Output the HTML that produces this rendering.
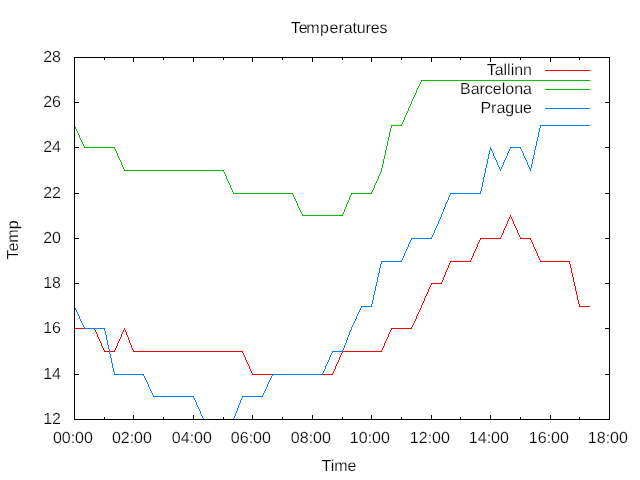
<!DOCTYPE html>
<html><head><meta charset="utf-8"><title>Temperatures</title>
<style>
html,body{margin:0;padding:0;background:#fff;}
body{width:640px;height:480px;position:relative;overflow:hidden;font-family:"Liberation Sans",sans-serif;}
#labels{position:absolute;left:0;top:0;width:640px;height:480px;will-change:transform;}
.t{position:absolute;font-family:"Liberation Sans",sans-serif;font-size:16px;line-height:16px;color:#000;white-space:nowrap;text-rendering:geometricPrecision;-webkit-text-stroke:0.2px #fff;}
</style></head><body>
<svg width="640" height="480" viewBox="0 0 640 480" shape-rendering="crispEdges" style="position:absolute;left:0;top:0"><path fill="#000" d="M74 415h1v5h-1zM74 57h1v5h-1zM104 417h1v3h-1zM104 57h1v3h-1zM133 415h1v5h-1zM133 57h1v5h-1zM163 417h1v3h-1zM163 57h1v3h-1zM193 415h1v5h-1zM193 57h1v5h-1zM223 417h1v3h-1zM223 57h1v3h-1zM252 415h1v5h-1zM252 57h1v5h-1zM282 417h1v3h-1zM282 57h1v3h-1zM312 415h1v5h-1zM312 57h1v5h-1zM342 417h1v3h-1zM342 57h1v3h-1zM371 415h1v5h-1zM371 57h1v5h-1zM401 417h1v3h-1zM401 57h1v3h-1zM431 415h1v5h-1zM431 57h1v5h-1zM460 417h1v3h-1zM460 57h1v3h-1zM490 415h1v5h-1zM490 57h1v5h-1zM520 417h1v3h-1zM520 57h1v3h-1zM550 415h1v5h-1zM550 57h1v5h-1zM579 417h1v3h-1zM579 57h1v3h-1zM609 415h1v5h-1zM609 57h1v5h-1zM74 419h5v1h-5zM605 419h5v1h-5zM74 374h5v1h-5zM605 374h5v1h-5zM74 328h5v1h-5zM605 328h5v1h-5zM74 283h5v1h-5zM605 283h5v1h-5zM74 238h5v1h-5zM605 238h5v1h-5zM74 193h5v1h-5zM605 193h5v1h-5zM74 147h5v1h-5zM605 147h5v1h-5zM74 102h5v1h-5zM605 102h5v1h-5zM74 57h5v1h-5zM605 57h5v1h-5z"/><path fill="#ff0000" d="M510 215h1v1h-1zM510 216h1v1h-1zM509 217h1v1h-1zM511 217h1v1h-1zM509 218h1v1h-1zM511 218h1v1h-1zM508 219h1v1h-1zM512 219h1v1h-1zM508 220h1v1h-1zM512 220h1v1h-1zM507 221h1v1h-1zM513 221h1v1h-1zM507 222h1v1h-1zM513 222h1v1h-1zM507 223h1v1h-1zM513 223h1v1h-1zM506 224h1v1h-1zM514 224h1v1h-1zM506 225h1v1h-1zM514 225h1v1h-1zM505 226h1v1h-1zM515 226h1v1h-1zM505 227h1v1h-1zM515 227h1v1h-1zM504 228h1v1h-1zM516 228h1v1h-1zM504 229h1v1h-1zM516 229h1v1h-1zM503 230h1v1h-1zM517 230h1v1h-1zM503 231h1v1h-1zM517 231h1v1h-1zM503 232h1v1h-1zM517 232h1v1h-1zM502 233h1v1h-1zM518 233h1v1h-1zM502 234h1v1h-1zM518 234h1v1h-1zM501 235h1v1h-1zM519 235h1v1h-1zM501 236h1v1h-1zM519 236h1v1h-1zM500 237h1v1h-1zM520 237h1v1h-1zM480 238h21v1h-21zM520 238h11v1h-11zM480 239h1v1h-1zM530 239h1v1h-1zM479 240h1v1h-1zM531 240h1v1h-1zM479 241h1v1h-1zM531 241h1v1h-1zM478 242h1v1h-1zM532 242h1v1h-1zM478 243h1v1h-1zM532 243h1v1h-1zM477 244h1v1h-1zM533 244h1v1h-1zM477 245h1v1h-1zM533 245h1v1h-1zM477 246h1v1h-1zM533 246h1v1h-1zM476 247h1v1h-1zM534 247h1v1h-1zM476 248h1v1h-1zM534 248h1v1h-1zM475 249h1v1h-1zM535 249h1v1h-1zM475 250h1v1h-1zM535 250h1v1h-1zM474 251h1v1h-1zM536 251h1v1h-1zM474 252h1v1h-1zM536 252h1v1h-1zM473 253h1v1h-1zM537 253h1v1h-1zM473 254h1v1h-1zM537 254h1v1h-1zM473 255h1v1h-1zM537 255h1v1h-1zM472 256h1v1h-1zM538 256h1v1h-1zM472 257h1v1h-1zM538 257h1v1h-1zM471 258h1v1h-1zM539 258h1v1h-1zM471 259h1v1h-1zM539 259h1v1h-1zM470 260h1v1h-1zM540 260h1v1h-1zM450 261h21v1h-21zM540 261h30v1h-30zM450 262h1v1h-1zM569 262h1v1h-1zM449 263h1v1h-1zM569 263h1v1h-1zM449 264h1v1h-1zM570 264h1v1h-1zM448 265h1v1h-1zM570 265h1v1h-1zM448 266h1v1h-1zM570 266h1v1h-1zM448 267h1v1h-1zM570 267h1v1h-1zM447 268h1v1h-1zM571 268h1v1h-1zM447 269h1v1h-1zM571 269h1v1h-1zM446 270h1v1h-1zM571 270h1v1h-1zM446 271h1v1h-1zM571 271h1v1h-1zM445 272h1v1h-1zM571 272h1v1h-1zM445 273h1v1h-1zM572 273h1v1h-1zM445 274h1v1h-1zM572 274h1v1h-1zM444 275h1v1h-1zM572 275h1v1h-1zM444 276h1v1h-1zM572 276h1v1h-1zM443 277h1v1h-1zM573 277h1v1h-1zM443 278h1v1h-1zM573 278h1v1h-1zM443 279h1v1h-1zM573 279h1v1h-1zM442 280h1v1h-1zM573 280h1v1h-1zM442 281h1v1h-1zM573 281h1v1h-1zM441 282h1v1h-1zM574 282h1v1h-1zM431 283h11v1h-11zM574 283h1v1h-1zM431 284h1v1h-1zM574 284h1v1h-1zM430 285h1v1h-1zM574 285h1v1h-1zM430 286h1v1h-1zM575 286h1v1h-1zM429 287h1v1h-1zM575 287h1v1h-1zM429 288h1v1h-1zM575 288h1v1h-1zM428 289h1v1h-1zM575 289h1v1h-1zM428 290h1v1h-1zM575 290h1v1h-1zM428 291h1v1h-1zM576 291h1v1h-1zM427 292h1v1h-1zM576 292h1v1h-1zM427 293h1v1h-1zM576 293h1v1h-1zM426 294h1v1h-1zM576 294h1v1h-1zM426 295h1v1h-1zM577 295h1v1h-1zM425 296h1v1h-1zM577 296h1v1h-1zM425 297h1v1h-1zM577 297h1v1h-1zM424 298h1v1h-1zM577 298h1v1h-1zM424 299h1v1h-1zM577 299h1v1h-1zM424 300h1v1h-1zM578 300h1v1h-1zM423 301h1v1h-1zM578 301h1v1h-1zM423 302h1v1h-1zM578 302h1v1h-1zM422 303h1v1h-1zM578 303h1v1h-1zM422 304h1v1h-1zM579 304h1v1h-1zM421 305h1v1h-1zM579 305h1v1h-1zM421 306h1v1h-1zM579 306h11v1h-11zM421 307h1v1h-1zM420 308h1v1h-1zM420 309h1v1h-1zM419 310h1v1h-1zM419 311h1v1h-1zM418 312h1v1h-1zM418 313h1v1h-1zM417 314h1v1h-1zM417 315h1v1h-1zM416 316h1v1h-1zM416 317h1v1h-1zM416 318h1v1h-1zM415 319h1v1h-1zM415 320h1v1h-1zM414 321h1v1h-1zM414 322h1v1h-1zM413 323h1v1h-1zM413 324h1v1h-1zM412 325h1v1h-1zM412 326h1v1h-1zM411 327h1v1h-1zM74 328h21v1h-21zM124 328h1v1h-1zM391 328h21v1h-21zM94 329h1v1h-1zM124 329h1v1h-1zM391 329h1v1h-1zM95 330h1v1h-1zM123 330h1v1h-1zM125 330h1v1h-1zM390 330h1v1h-1zM95 331h1v1h-1zM123 331h1v1h-1zM125 331h1v1h-1zM390 331h1v1h-1zM96 332h1v1h-1zM122 332h1v1h-1zM126 332h1v1h-1zM389 332h1v1h-1zM96 333h1v1h-1zM122 333h1v1h-1zM126 333h1v1h-1zM389 333h1v1h-1zM97 334h1v1h-1zM121 334h1v1h-1zM126 334h1v1h-1zM388 334h1v1h-1zM97 335h1v1h-1zM121 335h1v1h-1zM127 335h1v1h-1zM388 335h1v1h-1zM97 336h1v1h-1zM121 336h1v1h-1zM127 336h1v1h-1zM388 336h1v1h-1zM98 337h1v1h-1zM120 337h1v1h-1zM128 337h1v1h-1zM387 337h1v1h-1zM98 338h1v1h-1zM120 338h1v1h-1zM128 338h1v1h-1zM387 338h1v1h-1zM99 339h1v1h-1zM119 339h1v1h-1zM128 339h1v1h-1zM386 339h1v1h-1zM99 340h1v1h-1zM119 340h1v1h-1zM129 340h1v1h-1zM386 340h1v1h-1zM100 341h1v1h-1zM118 341h1v1h-1zM129 341h1v1h-1zM385 341h1v1h-1zM100 342h1v1h-1zM118 342h1v1h-1zM129 342h1v1h-1zM385 342h1v1h-1zM101 343h1v1h-1zM117 343h1v1h-1zM130 343h1v1h-1zM384 343h1v1h-1zM101 344h1v1h-1zM117 344h1v1h-1zM130 344h1v1h-1zM384 344h1v1h-1zM101 345h1v1h-1zM117 345h1v1h-1zM131 345h1v1h-1zM384 345h1v1h-1zM102 346h1v1h-1zM116 346h1v1h-1zM131 346h1v1h-1zM383 346h1v1h-1zM102 347h1v1h-1zM116 347h1v1h-1zM131 347h1v1h-1zM383 347h1v1h-1zM103 348h1v1h-1zM115 348h1v1h-1zM132 348h1v1h-1zM382 348h1v1h-1zM103 349h1v1h-1zM115 349h1v1h-1zM132 349h1v1h-1zM382 349h1v1h-1zM104 350h1v1h-1zM114 350h1v1h-1zM133 350h1v1h-1zM381 350h1v1h-1zM104 351h11v1h-11zM133 351h110v1h-110zM342 351h40v1h-40zM242 352h1v1h-1zM342 352h1v1h-1zM243 353h1v1h-1zM341 353h1v1h-1zM243 354h1v1h-1zM341 354h1v1h-1zM244 355h1v1h-1zM340 355h1v1h-1zM244 356h1v1h-1zM340 356h1v1h-1zM245 357h1v1h-1zM339 357h1v1h-1zM245 358h1v1h-1zM339 358h1v1h-1zM245 359h1v1h-1zM339 359h1v1h-1zM246 360h1v1h-1zM338 360h1v1h-1zM246 361h1v1h-1zM338 361h1v1h-1zM247 362h1v1h-1zM337 362h1v1h-1zM247 363h1v1h-1zM337 363h1v1h-1zM248 364h1v1h-1zM336 364h1v1h-1zM248 365h1v1h-1zM336 365h1v1h-1zM249 366h1v1h-1zM335 366h1v1h-1zM249 367h1v1h-1zM335 367h1v1h-1zM249 368h1v1h-1zM335 368h1v1h-1zM250 369h1v1h-1zM334 369h1v1h-1zM250 370h1v1h-1zM334 370h1v1h-1zM251 371h1v1h-1zM333 371h1v1h-1zM251 372h1v1h-1zM333 372h1v1h-1zM252 373h1v1h-1zM332 373h1v1h-1zM252 374h81v1h-81zM545 70h45v1h-45z"/><path fill="#00c000" d="M421 80h169v1h-169zM421 81h1v1h-1zM420 82h1v1h-1zM420 83h1v1h-1zM419 84h1v1h-1zM419 85h1v1h-1zM418 86h1v1h-1zM418 87h1v1h-1zM417 88h1v1h-1zM417 89h1v1h-1zM416 90h1v1h-1zM416 91h1v1h-1zM416 92h1v1h-1zM415 93h1v1h-1zM415 94h1v1h-1zM414 95h1v1h-1zM414 96h1v1h-1zM413 97h1v1h-1zM413 98h1v1h-1zM412 99h1v1h-1zM412 100h1v1h-1zM411 101h1v1h-1zM411 102h1v1h-1zM411 103h1v1h-1zM410 104h1v1h-1zM410 105h1v1h-1zM409 106h1v1h-1zM409 107h1v1h-1zM408 108h1v1h-1zM408 109h1v1h-1zM408 110h1v1h-1zM407 111h1v1h-1zM407 112h1v1h-1zM406 113h1v1h-1zM406 114h1v1h-1zM405 115h1v1h-1zM405 116h1v1h-1zM404 117h1v1h-1zM404 118h1v1h-1zM404 119h1v1h-1zM403 120h1v1h-1zM403 121h1v1h-1zM402 122h1v1h-1zM402 123h1v1h-1zM401 124h1v1h-1zM74 125h1v1h-1zM391 125h11v1h-11zM74 126h1v1h-1zM391 126h1v1h-1zM75 127h1v1h-1zM391 127h1v1h-1zM75 128h1v1h-1zM390 128h1v1h-1zM76 129h1v1h-1zM390 129h1v1h-1zM76 130h1v1h-1zM390 130h1v1h-1zM77 131h1v1h-1zM390 131h1v1h-1zM77 132h1v1h-1zM389 132h1v1h-1zM78 133h1v1h-1zM389 133h1v1h-1zM78 134h1v1h-1zM389 134h1v1h-1zM79 135h1v1h-1zM389 135h1v1h-1zM79 136h1v1h-1zM389 136h1v1h-1zM79 137h1v1h-1zM388 137h1v1h-1zM80 138h1v1h-1zM388 138h1v1h-1zM80 139h1v1h-1zM388 139h1v1h-1zM81 140h1v1h-1zM388 140h1v1h-1zM81 141h1v1h-1zM387 141h1v1h-1zM82 142h1v1h-1zM387 142h1v1h-1zM82 143h1v1h-1zM387 143h1v1h-1zM83 144h1v1h-1zM387 144h1v1h-1zM83 145h1v1h-1zM387 145h1v1h-1zM84 146h1v1h-1zM386 146h1v1h-1zM84 147h31v1h-31zM386 147h1v1h-1zM114 148h1v1h-1zM386 148h1v1h-1zM115 149h1v1h-1zM386 149h1v1h-1zM115 150h1v1h-1zM385 150h1v1h-1zM116 151h1v1h-1zM385 151h1v1h-1zM116 152h1v1h-1zM385 152h1v1h-1zM117 153h1v1h-1zM385 153h1v1h-1zM117 154h1v1h-1zM385 154h1v1h-1zM117 155h1v1h-1zM384 155h1v1h-1zM118 156h1v1h-1zM384 156h1v1h-1zM118 157h1v1h-1zM384 157h1v1h-1zM119 158h1v1h-1zM384 158h1v1h-1zM119 159h1v1h-1zM383 159h1v1h-1zM120 160h1v1h-1zM383 160h1v1h-1zM120 161h1v1h-1zM383 161h1v1h-1zM121 162h1v1h-1zM383 162h1v1h-1zM121 163h1v1h-1zM383 163h1v1h-1zM121 164h1v1h-1zM382 164h1v1h-1zM122 165h1v1h-1zM382 165h1v1h-1zM122 166h1v1h-1zM382 166h1v1h-1zM123 167h1v1h-1zM382 167h1v1h-1zM123 168h1v1h-1zM381 168h1v1h-1zM124 169h1v1h-1zM381 169h1v1h-1zM124 170h100v1h-100zM381 170h1v1h-1zM223 171h1v1h-1zM381 171h1v1h-1zM224 172h1v1h-1zM380 172h1v1h-1zM224 173h1v1h-1zM380 173h1v1h-1zM225 174h1v1h-1zM379 174h1v1h-1zM225 175h1v1h-1zM379 175h1v1h-1zM226 176h1v1h-1zM378 176h1v1h-1zM226 177h1v1h-1zM378 177h1v1h-1zM226 178h1v1h-1zM378 178h1v1h-1zM227 179h1v1h-1zM377 179h1v1h-1zM227 180h1v1h-1zM377 180h1v1h-1zM228 181h1v1h-1zM376 181h1v1h-1zM228 182h1v1h-1zM376 182h1v1h-1zM229 183h1v1h-1zM375 183h1v1h-1zM229 184h1v1h-1zM375 184h1v1h-1zM230 185h1v1h-1zM374 185h1v1h-1zM230 186h1v1h-1zM374 186h1v1h-1zM230 187h1v1h-1zM374 187h1v1h-1zM231 188h1v1h-1zM373 188h1v1h-1zM231 189h1v1h-1zM373 189h1v1h-1zM232 190h1v1h-1zM372 190h1v1h-1zM232 191h1v1h-1zM372 191h1v1h-1zM233 192h1v1h-1zM371 192h1v1h-1zM233 193h60v1h-60zM351 193h21v1h-21zM292 194h1v1h-1zM351 194h1v1h-1zM293 195h1v1h-1zM350 195h1v1h-1zM293 196h1v1h-1zM350 196h1v1h-1zM294 197h1v1h-1zM349 197h1v1h-1zM294 198h1v1h-1zM349 198h1v1h-1zM295 199h1v1h-1zM349 199h1v1h-1zM295 200h1v1h-1zM348 200h1v1h-1zM296 201h1v1h-1zM348 201h1v1h-1zM296 202h1v1h-1zM347 202h1v1h-1zM297 203h1v1h-1zM347 203h1v1h-1zM297 204h1v1h-1zM346 204h1v1h-1zM297 205h1v1h-1zM346 205h1v1h-1zM298 206h1v1h-1zM346 206h1v1h-1zM298 207h1v1h-1zM345 207h1v1h-1zM299 208h1v1h-1zM345 208h1v1h-1zM299 209h1v1h-1zM344 209h1v1h-1zM300 210h1v1h-1zM344 210h1v1h-1zM300 211h1v1h-1zM344 211h1v1h-1zM301 212h1v1h-1zM343 212h1v1h-1zM301 213h1v1h-1zM343 213h1v1h-1zM302 214h1v1h-1zM342 214h1v1h-1zM302 215h41v1h-41zM545 89h45v1h-45z"/><path fill="#0080ff" d="M540 125h50v1h-50zM540 126h1v1h-1zM540 127h1v1h-1zM539 128h1v1h-1zM539 129h1v1h-1zM539 130h1v1h-1zM539 131h1v1h-1zM538 132h1v1h-1zM538 133h1v1h-1zM538 134h1v1h-1zM538 135h1v1h-1zM538 136h1v1h-1zM537 137h1v1h-1zM537 138h1v1h-1zM537 139h1v1h-1zM537 140h1v1h-1zM536 141h1v1h-1zM536 142h1v1h-1zM536 143h1v1h-1zM536 144h1v1h-1zM536 145h1v1h-1zM535 146h1v1h-1zM490 147h1v1h-1zM510 147h11v1h-11zM535 147h1v1h-1zM490 148h1v1h-1zM510 148h1v1h-1zM520 148h1v1h-1zM535 148h1v1h-1zM490 149h2v1h-2zM509 149h1v1h-1zM521 149h1v1h-1zM535 149h1v1h-1zM489 150h1v1h-1zM491 150h1v1h-1zM509 150h1v1h-1zM521 150h1v1h-1zM534 150h1v1h-1zM489 151h1v1h-1zM492 151h1v1h-1zM508 151h1v1h-1zM522 151h1v1h-1zM534 151h1v1h-1zM489 152h1v1h-1zM492 152h1v1h-1zM508 152h1v1h-1zM522 152h1v1h-1zM534 152h1v1h-1zM489 153h1v1h-1zM493 153h1v1h-1zM507 153h1v1h-1zM523 153h1v1h-1zM534 153h1v1h-1zM488 154h1v1h-1zM493 154h1v1h-1zM507 154h1v1h-1zM523 154h1v1h-1zM534 154h1v1h-1zM488 155h1v1h-1zM493 155h1v1h-1zM507 155h1v1h-1zM523 155h1v1h-1zM533 155h1v1h-1zM488 156h1v1h-1zM494 156h1v1h-1zM506 156h1v1h-1zM524 156h1v1h-1zM533 156h1v1h-1zM488 157h1v1h-1zM494 157h1v1h-1zM506 157h1v1h-1zM524 157h1v1h-1zM533 157h1v1h-1zM488 158h1v1h-1zM495 158h1v1h-1zM505 158h1v1h-1zM525 158h1v1h-1zM533 158h1v1h-1zM487 159h1v1h-1zM495 159h1v1h-1zM505 159h1v1h-1zM525 159h1v1h-1zM532 159h1v1h-1zM487 160h1v1h-1zM496 160h1v1h-1zM504 160h1v1h-1zM526 160h1v1h-1zM532 160h1v1h-1zM487 161h1v1h-1zM496 161h1v1h-1zM504 161h1v1h-1zM526 161h1v1h-1zM532 161h1v1h-1zM487 162h1v1h-1zM497 162h1v1h-1zM503 162h1v1h-1zM527 162h1v1h-1zM532 162h1v1h-1zM487 163h1v1h-1zM497 163h1v1h-1zM503 163h1v1h-1zM527 163h1v1h-1zM532 163h1v1h-1zM486 164h1v1h-1zM497 164h1v1h-1zM503 164h1v1h-1zM527 164h1v1h-1zM531 164h1v1h-1zM486 165h1v1h-1zM498 165h1v1h-1zM502 165h1v1h-1zM528 165h1v1h-1zM531 165h1v1h-1zM486 166h1v1h-1zM498 166h1v1h-1zM502 166h1v1h-1zM528 166h1v1h-1zM531 166h1v1h-1zM486 167h1v1h-1zM499 167h1v1h-1zM501 167h1v1h-1zM529 167h1v1h-1zM531 167h1v1h-1zM485 168h1v1h-1zM499 168h1v1h-1zM501 168h1v1h-1zM529 168h2v1h-2zM485 169h1v1h-1zM500 169h1v1h-1zM530 169h1v1h-1zM485 170h1v1h-1zM500 170h1v1h-1zM530 170h1v1h-1zM485 171h1v1h-1zM485 172h1v1h-1zM484 173h1v1h-1zM484 174h1v1h-1zM484 175h1v1h-1zM484 176h1v1h-1zM483 177h1v1h-1zM483 178h1v1h-1zM483 179h1v1h-1zM483 180h1v1h-1zM483 181h1v1h-1zM482 182h1v1h-1zM482 183h1v1h-1zM482 184h1v1h-1zM482 185h1v1h-1zM482 186h1v1h-1zM481 187h1v1h-1zM481 188h1v1h-1zM481 189h1v1h-1zM481 190h1v1h-1zM480 191h1v1h-1zM480 192h1v1h-1zM450 193h31v1h-31zM450 194h1v1h-1zM449 195h1v1h-1zM449 196h1v1h-1zM448 197h1v1h-1zM448 198h1v1h-1zM448 199h1v1h-1zM447 200h1v1h-1zM447 201h1v1h-1zM446 202h1v1h-1zM446 203h1v1h-1zM445 204h1v1h-1zM445 205h1v1h-1zM445 206h1v1h-1zM444 207h1v1h-1zM444 208h1v1h-1zM443 209h1v1h-1zM443 210h1v1h-1zM443 211h1v1h-1zM442 212h1v1h-1zM442 213h1v1h-1zM441 214h1v1h-1zM441 215h1v1h-1zM441 216h1v1h-1zM440 217h1v1h-1zM440 218h1v1h-1zM439 219h1v1h-1zM439 220h1v1h-1zM438 221h1v1h-1zM438 222h1v1h-1zM438 223h1v1h-1zM437 224h1v1h-1zM437 225h1v1h-1zM436 226h1v1h-1zM436 227h1v1h-1zM435 228h1v1h-1zM435 229h1v1h-1zM434 230h1v1h-1zM434 231h1v1h-1zM434 232h1v1h-1zM433 233h1v1h-1zM433 234h1v1h-1zM432 235h1v1h-1zM432 236h1v1h-1zM431 237h1v1h-1zM411 238h21v1h-21zM411 239h1v1h-1zM410 240h1v1h-1zM410 241h1v1h-1zM409 242h1v1h-1zM409 243h1v1h-1zM408 244h1v1h-1zM408 245h1v1h-1zM408 246h1v1h-1zM407 247h1v1h-1zM407 248h1v1h-1zM406 249h1v1h-1zM406 250h1v1h-1zM405 251h1v1h-1zM405 252h1v1h-1zM404 253h1v1h-1zM404 254h1v1h-1zM404 255h1v1h-1zM403 256h1v1h-1zM403 257h1v1h-1zM402 258h1v1h-1zM402 259h1v1h-1zM401 260h1v1h-1zM381 261h21v1h-21zM381 262h1v1h-1zM381 263h1v1h-1zM380 264h1v1h-1zM380 265h1v1h-1zM380 266h1v1h-1zM380 267h1v1h-1zM379 268h1v1h-1zM379 269h1v1h-1zM379 270h1v1h-1zM379 271h1v1h-1zM379 272h1v1h-1zM378 273h1v1h-1zM378 274h1v1h-1zM378 275h1v1h-1zM378 276h1v1h-1zM377 277h1v1h-1zM377 278h1v1h-1zM377 279h1v1h-1zM377 280h1v1h-1zM377 281h1v1h-1zM376 282h1v1h-1zM376 283h1v1h-1zM376 284h1v1h-1zM376 285h1v1h-1zM375 286h1v1h-1zM375 287h1v1h-1zM375 288h1v1h-1zM375 289h1v1h-1zM375 290h1v1h-1zM374 291h1v1h-1zM374 292h1v1h-1zM374 293h1v1h-1zM374 294h1v1h-1zM373 295h1v1h-1zM373 296h1v1h-1zM373 297h1v1h-1zM373 298h1v1h-1zM373 299h1v1h-1zM372 300h1v1h-1zM372 301h1v1h-1zM372 302h1v1h-1zM372 303h1v1h-1zM371 304h1v1h-1zM371 305h1v1h-1zM74 306h1v1h-1zM361 306h11v1h-11zM74 307h1v1h-1zM361 307h1v1h-1zM75 308h1v1h-1zM360 308h1v1h-1zM75 309h1v1h-1zM360 309h1v1h-1zM76 310h1v1h-1zM359 310h1v1h-1zM76 311h1v1h-1zM359 311h1v1h-1zM77 312h1v1h-1zM358 312h1v1h-1zM77 313h1v1h-1zM358 313h1v1h-1zM78 314h1v1h-1zM357 314h1v1h-1zM78 315h1v1h-1zM357 315h1v1h-1zM79 316h1v1h-1zM356 316h1v1h-1zM79 317h1v1h-1zM356 317h1v1h-1zM79 318h1v1h-1zM356 318h1v1h-1zM80 319h1v1h-1zM355 319h1v1h-1zM80 320h1v1h-1zM355 320h1v1h-1zM81 321h1v1h-1zM354 321h1v1h-1zM81 322h1v1h-1zM354 322h1v1h-1zM82 323h1v1h-1zM353 323h1v1h-1zM82 324h1v1h-1zM353 324h1v1h-1zM83 325h1v1h-1zM352 325h1v1h-1zM83 326h1v1h-1zM352 326h1v1h-1zM84 327h1v1h-1zM351 327h1v1h-1zM84 328h21v1h-21zM351 328h1v1h-1zM104 329h1v1h-1zM351 329h1v1h-1zM104 330h1v1h-1zM350 330h1v1h-1zM105 331h1v1h-1zM350 331h1v1h-1zM105 332h1v1h-1zM349 332h1v1h-1zM105 333h1v1h-1zM349 333h1v1h-1zM105 334h1v1h-1zM349 334h1v1h-1zM106 335h1v1h-1zM348 335h1v1h-1zM106 336h1v1h-1zM348 336h1v1h-1zM106 337h1v1h-1zM347 337h1v1h-1zM106 338h1v1h-1zM347 338h1v1h-1zM106 339h1v1h-1zM347 339h1v1h-1zM107 340h1v1h-1zM346 340h1v1h-1zM107 341h1v1h-1zM346 341h1v1h-1zM107 342h1v1h-1zM346 342h1v1h-1zM107 343h1v1h-1zM345 343h1v1h-1zM107 344h1v1h-1zM345 344h1v1h-1zM108 345h1v1h-1zM344 345h1v1h-1zM108 346h1v1h-1zM344 346h1v1h-1zM108 347h1v1h-1zM344 347h1v1h-1zM108 348h1v1h-1zM343 348h1v1h-1zM109 349h1v1h-1zM343 349h1v1h-1zM109 350h1v1h-1zM342 350h1v1h-1zM109 351h1v1h-1zM332 351h11v1h-11zM109 352h1v1h-1zM332 352h1v1h-1zM109 353h1v1h-1zM331 353h1v1h-1zM110 354h1v1h-1zM331 354h1v1h-1zM110 355h1v1h-1zM330 355h1v1h-1zM110 356h1v1h-1zM330 356h1v1h-1zM110 357h1v1h-1zM329 357h1v1h-1zM111 358h1v1h-1zM329 358h1v1h-1zM111 359h1v1h-1zM329 359h1v1h-1zM111 360h1v1h-1zM328 360h1v1h-1zM111 361h1v1h-1zM328 361h1v1h-1zM111 362h1v1h-1zM327 362h1v1h-1zM112 363h1v1h-1zM327 363h1v1h-1zM112 364h1v1h-1zM326 364h1v1h-1zM112 365h1v1h-1zM326 365h1v1h-1zM112 366h1v1h-1zM325 366h1v1h-1zM112 367h1v1h-1zM325 367h1v1h-1zM113 368h1v1h-1zM325 368h1v1h-1zM113 369h1v1h-1zM324 369h1v1h-1zM113 370h1v1h-1zM324 370h1v1h-1zM113 371h1v1h-1zM323 371h1v1h-1zM114 372h1v1h-1zM323 372h1v1h-1zM114 373h1v1h-1zM322 373h1v1h-1zM114 374h30v1h-30zM272 374h51v1h-51zM143 375h1v1h-1zM272 375h1v1h-1zM144 376h1v1h-1zM271 376h1v1h-1zM144 377h1v1h-1zM271 377h1v1h-1zM145 378h1v1h-1zM270 378h1v1h-1zM145 379h1v1h-1zM270 379h1v1h-1zM146 380h1v1h-1zM269 380h1v1h-1zM146 381h1v1h-1zM269 381h1v1h-1zM147 382h1v1h-1zM268 382h1v1h-1zM147 383h1v1h-1zM268 383h1v1h-1zM148 384h1v1h-1zM267 384h1v1h-1zM148 385h1v1h-1zM267 385h1v1h-1zM148 386h1v1h-1zM267 386h1v1h-1zM149 387h1v1h-1zM266 387h1v1h-1zM149 388h1v1h-1zM266 388h1v1h-1zM150 389h1v1h-1zM265 389h1v1h-1zM150 390h1v1h-1zM265 390h1v1h-1zM151 391h1v1h-1zM264 391h1v1h-1zM151 392h1v1h-1zM264 392h1v1h-1zM152 393h1v1h-1zM263 393h1v1h-1zM152 394h1v1h-1zM263 394h1v1h-1zM153 395h1v1h-1zM262 395h1v1h-1zM153 396h41v1h-41zM242 396h21v1h-21zM193 397h1v1h-1zM242 397h1v1h-1zM194 398h1v1h-1zM241 398h1v1h-1zM194 399h1v1h-1zM241 399h1v1h-1zM195 400h1v1h-1zM240 400h1v1h-1zM195 401h1v1h-1zM240 401h1v1h-1zM196 402h1v1h-1zM240 402h1v1h-1zM196 403h1v1h-1zM239 403h1v1h-1zM196 404h1v1h-1zM239 404h1v1h-1zM197 405h1v1h-1zM238 405h1v1h-1zM197 406h1v1h-1zM238 406h1v1h-1zM198 407h1v1h-1zM238 407h1v1h-1zM198 408h1v1h-1zM237 408h1v1h-1zM199 409h1v1h-1zM237 409h1v1h-1zM199 410h1v1h-1zM237 410h1v1h-1zM200 411h1v1h-1zM236 411h1v1h-1zM200 412h1v1h-1zM236 412h1v1h-1zM200 413h1v1h-1zM235 413h1v1h-1zM201 414h1v1h-1zM235 414h1v1h-1zM201 415h1v1h-1zM235 415h1v1h-1zM202 416h1v1h-1zM234 416h1v1h-1zM202 417h1v1h-1zM234 417h1v1h-1zM203 418h1v1h-1zM233 418h1v1h-1zM203 419h1v1h-1zM233 419h1v1h-1zM545 108h45v1h-45z"/><path fill="#000" d="M74 57h536v1h-536zM74 419h536v1h-536zM74 57h1v363h-1zM609 57h1v363h-1z"/></svg>
<div id="labels"><div class="t" style="top:21px;left:189.2px;width:300px;text-align:center;letter-spacing:-0.1px;">Te<span style="position:relative;left:-1.3px">m</span><span style="position:relative;left:-0.9px">p</span>eratures</div><div class="t" style="top:459px;left:189px;width:300px;text-align:center;">Time</div><div class="t" style="top:431px;left:-77.1px;width:300px;text-align:center;">00:00</div><div class="t" style="top:431px;left:-18.099999999999994px;width:300px;text-align:center;">02:00</div><div class="t" style="top:431px;left:41.900000000000006px;width:300px;text-align:center;">04:00</div><div class="t" style="top:431px;left:100.9px;width:300px;text-align:center;">06:00</div><div class="t" style="top:431px;left:160.89999999999998px;width:300px;text-align:center;">08:00</div><div class="t" style="top:431px;left:219.89999999999998px;width:300px;text-align:center;">10:00</div><div class="t" style="top:431px;left:279.9px;width:300px;text-align:center;">12:00</div><div class="t" style="top:431px;left:338.9px;width:300px;text-align:center;">14:00</div><div class="t" style="top:431px;left:398.9px;width:300px;text-align:center;">16:00</div><div class="t" style="top:431px;left:457.9px;width:300px;text-align:center;">18:00</div><div class="t" style="top:412px;right:579px;text-align:right;">12</div><div class="t" style="top:367px;right:579px;text-align:right;">14</div><div class="t" style="top:321px;right:579px;text-align:right;">16</div><div class="t" style="top:276px;right:579px;text-align:right;">18</div><div class="t" style="top:231px;right:579px;text-align:right;">20</div><div class="t" style="top:186px;right:579px;text-align:right;">22</div><div class="t" style="top:140px;right:579px;text-align:right;">24</div><div class="t" style="top:95px;right:579px;text-align:right;">26</div><div class="t" style="top:50px;right:579px;text-align:right;">28</div><div class="t" style="top:63px;right:108px;text-align:right;">Tallinn</div><div class="t" style="top:82px;right:108px;text-align:right;">Barcelona</div><div class="t" style="top:101px;right:108px;text-align:right;">Prague</div><div class="t" style="left:5.5px;top:239.5px;transform-origin:0 0;transform:rotate(-90deg) translate(-50%,0);letter-spacing:0px">Temp</div></div>
</body></html>
